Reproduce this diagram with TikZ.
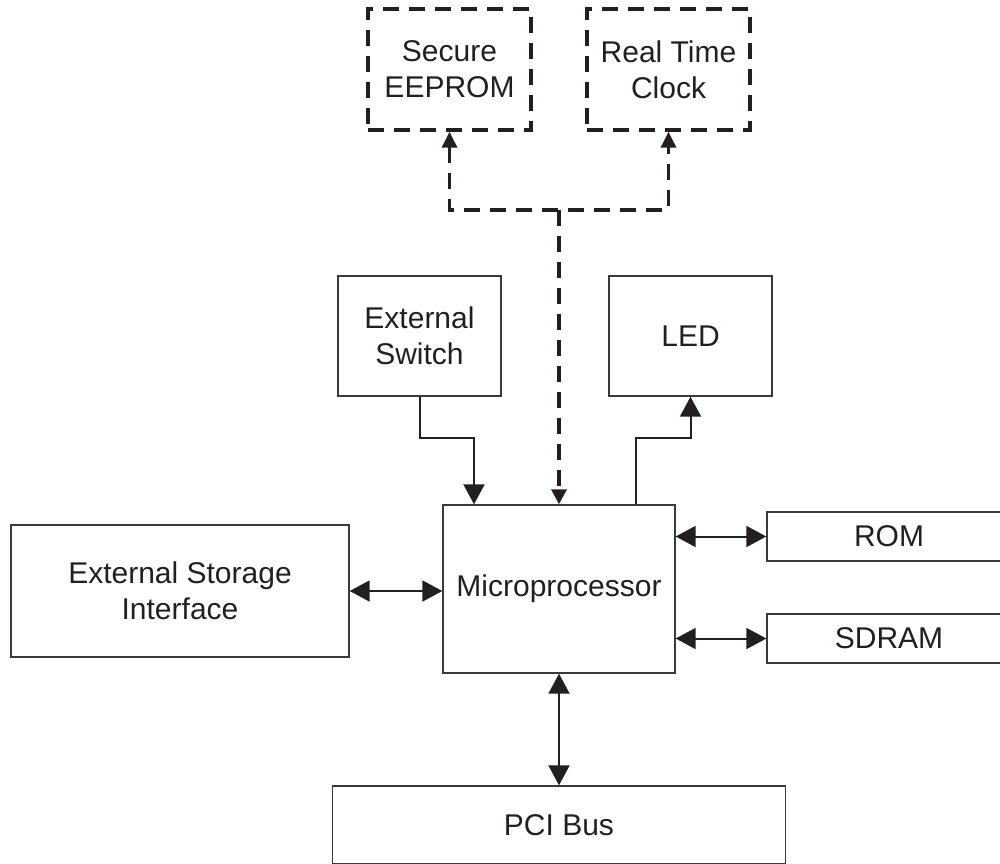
\documentclass[tikz,border=0pt]{standalone}
\usepackage{fontspec}
\setmainfont{Liberation Sans}
\usetikzlibrary{arrows.meta}
\definecolor{ink}{HTML}{231F20}
\definecolor{edge}{HTML}{3A3A3A}
\begin{document}
\begin{tikzpicture}[x=1pt,y=-1pt,
  lbl/.style={font=\fontsize{30}{36}\selectfont, text=ink, align=center, inner sep=0pt},
  blockbox/.style={lbl, draw=edge, line width=1.4pt, minimum width=#1},
  dashbox/.style={lbl, draw=ink, line width=3.4pt, dash pattern=on 16pt off 10pt},
  link/.style={draw=ink, line width=2pt},
  dlink/.style={draw=ink, line width=3.4pt, dash pattern=on 16pt off 10pt},
  bigtip/.style={-{Triangle[length=20pt,width=21pt]}},
  bibig/.style={{Triangle[length=20pt,width=21pt]}-{Triangle[length=20pt,width=21pt]}},
  smalltip/.style={-{Triangle[length=15pt,width=15pt]}},
  bismall/.style={{Triangle[length=16pt,width=15pt]}-{Triangle[length=16pt,width=15pt]}}
]
\useasboundingbox (0,0) rectangle (1000,863);
\clip (0,0) rectangle (1000,863);

% optional peripherals (dashed)
\node[dashbox, minimum width=163pt, minimum height=121pt] (eep) at (449.5,69.5) {Secure\\EEPROM};
\node[dashbox, minimum width=163pt, minimum height=121pt] (rtc) at (668.5,69.5) {Real Time\\Clock};

% solid blocks
\node[blockbox=163pt, minimum height=120pt] (sw) at (419.5,336) {External\\Switch};
\node[blockbox=163pt, minimum height=120pt] (led) at (690.5,336) {LED};
\node[blockbox=232pt, minimum height=168pt] (mp) at (559,589) {Microprocessor};
\node[blockbox=338pt, minimum height=132pt] (esi) at (180,591) {External Storage\\Interface};
\node[blockbox=244pt, minimum height=49pt] (rom) at (889,536.5) {ROM};
\node[blockbox=244pt, minimum height=49pt] (sdram) at (889,638.5) {SDRAM};
\node[blockbox=453pt, minimum height=78pt] (pci) at (559,825) {PCI Bus};

% dashed bus to the optional peripherals
\coordinate (j) at (559,210);
\draw[dlink, bismall] (eep.south) |- (j) -| (rtc.south);
\draw[dlink, smalltip] (j) -- (mp.north);

% switch input and LED output
\draw[link, bigtip] (sw.south) -- ++(0,41) -| ([xshift=-85pt]mp.north);
\draw[link, bigtip] ([xshift=77pt]mp.north) -- ++(0,-66) -| (led.south);

% bidirectional links
\draw[link, bibig] (esi.east) -- (esi.east -| mp.west);
\draw[link, bibig] (rom.west -| mp.east) -- (rom.west);
\draw[link, bibig] (sdram.west -| mp.east) -- (sdram.west);
\draw[link, bibig] (mp.south) -- (pci.north);
\end{tikzpicture}
\end{document}
